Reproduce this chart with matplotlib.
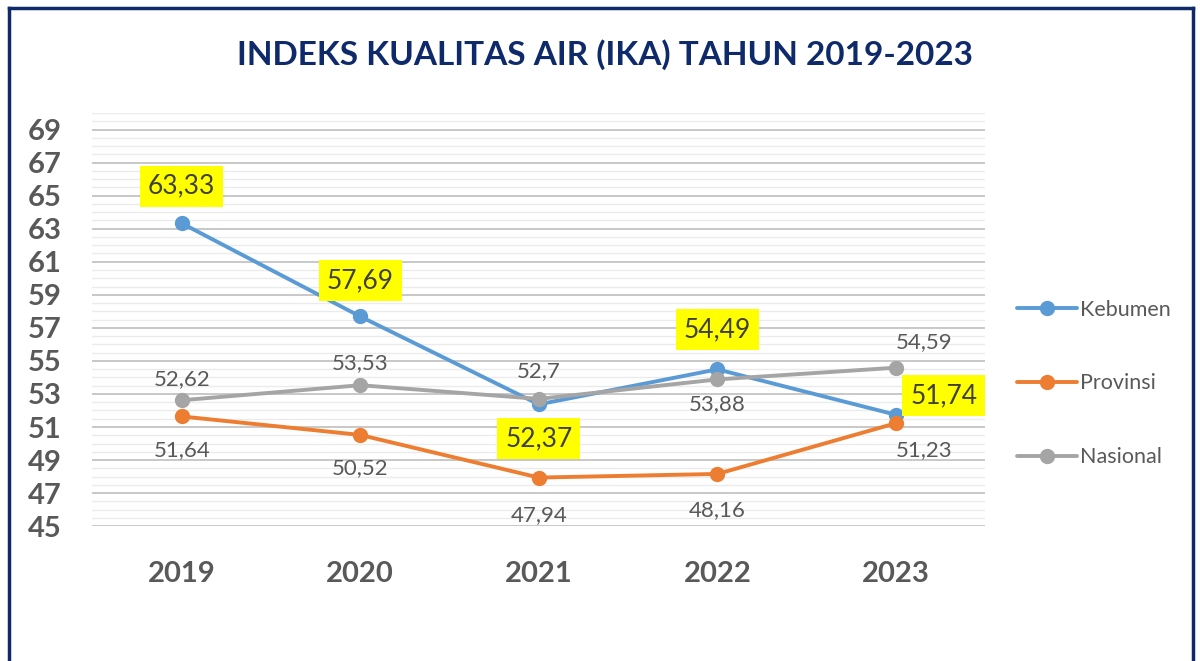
import matplotlib.pyplot as plt
from matplotlib.lines import Line2D
from matplotlib.ticker import MultipleLocator

plt.rcParams['font.family'] = ['Lato', 'DejaVu Sans']

years = ['2019', '2020', '2021', '2022', '2023']
kebumen = [63.33, 57.69, 52.37, 54.49, 51.74]
provinsi = [51.64, 50.52, 47.94, 48.16, 51.23]
nasional = [52.62, 53.53, 52.7, 53.88, 54.59]

# label offsets in pixels (dx, dy)
keb_off = [(0, 37), (0, 36), (0, -34), (0, 40), (48, 19)]
prov_off = [(0, -34), (0, -33), (0, -38), (0, -36), (28, -27)]
nas_off = [(0, 21), (0, 22), (0, 28), (0, -25), (28, 26)]

fig = plt.figure(figsize=(12, 6.61), dpi=100)
ax = fig.add_axes([0.077, 0.204, 0.744, 0.625])

x = range(len(years))
series = [
    ('Kebumen', kebumen, '#5B9BD5'),
    ('Provinsi', provinsi, '#ED7D31'),
    ('Nasional', nasional, '#A5A5A5'),
]
for name, vals, col in series:
    ax.plot(x, vals, color=col, lw=2.8, marker='o', ms=10, label=name,
            solid_capstyle='round', zorder=3)

def fmt(v):
    return ('%g' % v).replace('.', ',')

for i, v in enumerate(kebumen):
    ax.annotate(fmt(v), (i, v), xytext=keb_off[i], textcoords='offset pixels',
                ha='center', va='center', fontsize=19, color='#404040',
                bbox=dict(boxstyle='square,pad=0.3', fc='#FFFF00', ec='none'),
                zorder=5)
for vals, offs in [(provinsi, prov_off), (nasional, nas_off)]:
    for i, v in enumerate(vals):
        ax.annotate(fmt(v), (i, v), xytext=offs[i], textcoords='offset pixels',
                    ha='center', va='center', fontsize=16, color='#595959',
                    zorder=5)

ax.set_xlim(-0.5, 4.5)
ax.set_ylim(45, 70)
ax.set_xticks(list(x))
ax.set_xticklabels(years)
ax.set_yticks(range(45, 70, 2))
ax.yaxis.set_minor_locator(MultipleLocator(0.5))
ax.grid(which='major', axis='y', color='#BFBFBF', lw=1.2)
ax.grid(which='minor', axis='y', color='#EBEBEB', lw=1)
ax.set_axisbelow(True)
for s in ax.spines.values():
    s.set_visible(False)
ax.tick_params(axis='both', which='both', length=0)
ax.tick_params(axis='y', labelsize=21, labelcolor='#595959', pad=22)
ax.tick_params(axis='x', labelsize=21, labelcolor='#595959', pad=25)
for lbl in ax.get_xticklabels() + ax.get_yticklabels():
    lbl.set_fontweight('bold')

fig.text(0.504, 0.918, 'INDEKS KUALITAS AIR (IKA) TAHUN 2019-2023',
         ha='center', va='center', fontsize=24, fontweight='bold',
         color='#0E2A6B')

fig.legend(loc='center left', bbox_to_anchor=(0.831, 0.42), frameon=False,
           fontsize=15.5, labelcolor='#595959', handlelength=2.8,
           labelspacing=2.5, handletextpad=0.15)

# frame around the chart (bottom edge falls outside the image)
navy = '#0E2A6B'
fig.add_artist(Line2D([0.0075, 0.0075], [0, 0.988], color=navy, lw=2.5))
fig.add_artist(Line2D([0.994, 0.994], [0, 0.988], color=navy, lw=2.5))
fig.add_artist(Line2D([0.0075, 0.994], [0.988, 0.988], color=navy, lw=2.5))

fig.savefig('out.png', dpi=100)
